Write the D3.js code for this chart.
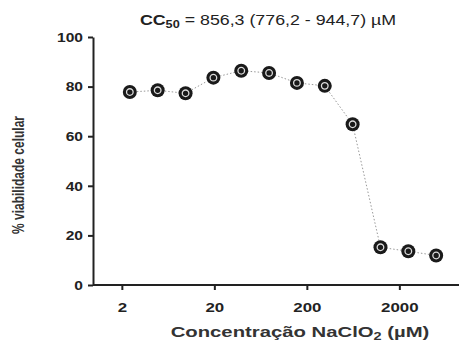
<!DOCTYPE html>
<html><head><meta charset="utf-8">
<script src="https://cdn.jsdelivr.net/npm/d3@7"></script>
<style>body{margin:0;background:#fff;} svg{display:block;font-family:"Liberation Sans",Arial,sans-serif;}</style>
</head><body>
<script>
const concentrations = [2.44, 4.88, 9.77, 19.53, 39.06, 78.13, 156.25, 312.5, 625, 1250, 2500, 5000];
const viability = [77.8, 78.5, 77.3, 83.6, 86.4, 85.5, 81.5, 80.3, 64.8, 15.2, 13.6, 11.9];
const xTicks = [2, 20, 200, 2000];
const yTicks = [0, 20, 40, 60, 80, 100];

const W = 459, H = 341;
const SX = 1.3; // horizontal stretch of the text in the reference
const svg = d3.select("body").append("svg").attr("width", W).attr("height", H);

const x = d3.scaleLog().domain([1, 10000]).range([94, 464]);
const y = d3.scaleLinear().domain([0, 100]).range([285, 37]);

// axes
const xAxis = svg.append("g").attr("transform", "translate(0,285)")
  .call(d3.axisBottom(x).tickValues(xTicks).tickFormat(d3.format("d")).tickSize(5).tickSizeOuter(0));
const yAxis = svg.append("g").attr("transform", "translate(93,0)")
  .call(d3.axisLeft(y).tickValues(yTicks).tickSize(5).tickSizeOuter(0));
[xAxis, yAxis].forEach(g => {
  g.select(".domain").attr("stroke", "#222").attr("stroke-width", 2);
  g.selectAll(".tick line").attr("stroke", "#222").attr("stroke-width", 2);
  g.selectAll(".tick text").attr("fill", "#222").attr("font-weight", "bold")
   .attr("font-family", "Liberation Sans, Arial, sans-serif");
});
xAxis.select(".domain").attr("d", "M93,0H459");
xAxis.selectAll(".tick text").attr("font-size", 13).attr("y", 0).attr("dy", 0)
  .attr("transform", `translate(0,27) scale(${SX},1)`);
yAxis.selectAll(".tick text").attr("font-size", 12).attr("x", 0).attr("dy", "0.35em")
  .attr("transform", `translate(-10,0) scale(${SX},1)`);

// line
const line = d3.line().x((d, i) => x(concentrations[i])).y(d => y(d));
svg.append("path").datum(viability).attr("d", line)
  .attr("fill", "none").attr("stroke", "#999").attr("stroke-width", 1).attr("stroke-dasharray", "1.5,2");

// markers
const pts = svg.append("g").selectAll("g").data(viability).join("g")
  .attr("transform", (d, i) => `translate(${x(concentrations[i])},${y(d)})`);
pts.append("circle").attr("r", 7).attr("fill", "#1a1a1a");
pts.append("circle").attr("r", 3.3).attr("fill", "#1a1a1a").attr("stroke", "#ddd").attr("stroke-width", 1.3);

// title
const t = svg.append("text").attr("transform", `translate(268,25) scale(1.27,1)`).attr("text-anchor", "middle")
  .attr("font-size", 14).attr("fill", "#222");
t.append("tspan").attr("font-weight", "bold").text("CC");
t.append("tspan").attr("font-weight", "bold").attr("font-size", 10).attr("dy", 3).text("50");
t.append("tspan").attr("dy", -3).text(" = 856,3 (776,2 - 944,7) µM");

// x label
const xl = svg.append("text").attr("transform", `translate(300,337) scale(1.45,1)`).attr("text-anchor", "middle")
  .attr("font-size", 14).attr("font-weight", "bold").attr("fill", "#333");
xl.append("tspan").text("Concentração NaClO");
xl.append("tspan").attr("font-size", 10).attr("dy", 3).text("2");
xl.append("tspan").attr("dy", -3).text(" (µM)");

// y label
svg.append("text").attr("transform", "translate(24,175) rotate(-90) scale(1,1.3)").attr("text-anchor", "middle")
  .attr("font-size", 12).attr("font-weight", "bold").attr("fill", "#333").text("% viabilidade celular");
</script>
</body></html>
